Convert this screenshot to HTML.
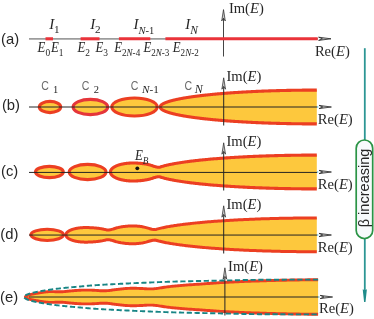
<!DOCTYPE html>
<html><head><meta charset="utf-8"><title>figure</title>
<style>html,body{margin:0;padding:0;background:#fff;}svg{display:block;will-change:transform;transform:translateZ(0);}</style>
</head><body>
<svg width="374" height="319" viewBox="0 0 374 319">
<line x1="29" y1="38.9" x2="318" y2="38.9" stroke="#9c9c9c" stroke-width="1.8"/>
<line x1="223.5" y1="15" x2="223.5" y2="56.5" stroke="#242424" stroke-width="0.85"/>
<line x1="45.5" y1="38.8" x2="53" y2="38.8" stroke="#ea333a" stroke-width="3.1"/>
<line x1="80.6" y1="38.8" x2="99.5" y2="38.8" stroke="#ea333a" stroke-width="3.1"/>
<line x1="118.9" y1="38.8" x2="150.3" y2="38.8" stroke="#ea333a" stroke-width="3.1"/>
<line x1="165.4" y1="38.8" x2="317.7" y2="38.8" stroke="#ea333a" stroke-width="3.1"/>
<path d="M331 38.8 L318.6 37.2 L322.4 38.8 L318.6 40.4 Z" fill="#c8c8c8" stroke="#242424" stroke-width="0.8" stroke-linejoin="miter"/>
<path d="M223.5 9.6 L221.7 21 L223.5 18.2 L225.3 21 Z" fill="#c8c8c8" stroke="#242424" stroke-width="0.7"/>
<text x="228.9" y="12.8" font-family="'Liberation Serif', serif" font-size="14.6" fill="#262626">Im(<tspan font-style="italic">E</tspan>)</text>
<text x="314.9" y="55.8" font-family="'Liberation Serif', serif" font-size="14.6" fill="#262626">Re(<tspan font-style="italic">E</tspan>)</text>
<text x="1.1" y="43.7" font-family="'Liberation Sans', sans-serif" font-size="14.8" fill="#262626">(a)</text>
<text x="49.3" y="29.2" font-family="'Liberation Serif', serif" font-size="15" fill="#262626"><tspan font-style="italic">I</tspan><tspan font-size="11.2" dy="4.2" dx="-0.3">1</tspan></text>
<text x="90.3" y="29.2" font-family="'Liberation Serif', serif" font-size="15" fill="#262626"><tspan font-style="italic">I</tspan><tspan font-size="11.2" dy="4.2" dx="-0.3">2</tspan></text>
<text x="133.4" y="29.2" font-family="'Liberation Serif', serif" font-size="15" fill="#262626"><tspan font-style="italic">I</tspan><tspan font-size="10.5" dy="4.5" dx="0"><tspan font-style="italic">N</tspan>-1</tspan></text>
<text x="185.2" y="29.2" font-family="'Liberation Serif', serif" font-size="15" fill="#262626"><tspan font-style="italic">I</tspan><tspan font-size="11.5" dy="4.7" dx="0"><tspan font-style="italic">N</tspan></tspan></text>
<text transform="translate(37.6 52) scale(1 1.09)" font-family="'Liberation Serif', serif" font-size="12.8" fill="#262626"><tspan font-style="italic">E</tspan><tspan font-size="9.4" dy="3.49" dx="0">0</tspan></text>
<text transform="translate(51 52) scale(1 1.09)" font-family="'Liberation Serif', serif" font-size="12.8" fill="#262626"><tspan font-style="italic">E</tspan><tspan font-size="9.4" dy="3.49" dx="0">1</tspan></text>
<text transform="translate(77.4 52) scale(1 1.09)" font-family="'Liberation Serif', serif" font-size="12.8" fill="#262626"><tspan font-style="italic">E</tspan><tspan font-size="9.4" dy="3.49" dx="0">2</tspan></text>
<text transform="translate(95.5 52) scale(1 1.09)" font-family="'Liberation Serif', serif" font-size="12.8" fill="#262626"><tspan font-style="italic">E</tspan><tspan font-size="9.4" dy="3.49" dx="0">3</tspan></text>
<text transform="translate(114.2 52) scale(1 1.09)" font-family="'Liberation Serif', serif" font-size="12.8" fill="#262626"><tspan font-style="italic">E</tspan><tspan font-size="9.1" dy="3.49" dx="0">2<tspan font-style="italic">N</tspan>-4</tspan></text>
<text transform="translate(143.4 52) scale(1 1.09)" font-family="'Liberation Serif', serif" font-size="12.8" fill="#262626"><tspan font-style="italic">E</tspan><tspan font-size="9.1" dy="3.49" dx="0">2<tspan font-style="italic">N</tspan>-3</tspan></text>
<text transform="translate(172.8 52) scale(1 1.09)" font-family="'Liberation Serif', serif" font-size="12.8" fill="#262626"><tspan font-style="italic">E</tspan><tspan font-size="9.1" dy="3.49" dx="0">2<tspan font-style="italic">N</tspan>-2</tspan></text>
<ellipse cx="50" cy="107.0" rx="10.7" ry="5.6" fill="#fdc83d" stroke="#ec3f22" stroke-width="3.1"/>
<ellipse cx="90.4" cy="107.0" rx="17.3" ry="7.6" fill="#fdc83d" stroke="#e5363a" stroke-width="3.1"/>
<ellipse cx="134.5" cy="107.0" rx="22.7" ry="9.0" fill="#fdc83d" stroke="#ec3f22" stroke-width="3.1"/>
<path d="M316.8 90.1 L315.75 90.1 L314.71 90.1 L313.67 90.1 L312.64 90.11 L311.61 90.11 L310.58 90.11 L309.55 90.12 L308.53 90.12 L307.51 90.13 L306.5 90.14 L305.49 90.14 L304.48 90.15 L303.48 90.16 L302.48 90.17 L301.48 90.18 L300.49 90.19 L299.5 90.2 L298.51 90.22 L297.53 90.23 L296.55 90.24 L295.58 90.26 L294.6 90.27 L293.63 90.29 L292.67 90.3 L291.71 90.32 L290.75 90.34 L289.79 90.35 L288.84 90.37 L287.9 90.39 L286.95 90.41 L286.01 90.43 L285.07 90.45 L284.14 90.47 L283.21 90.49 L282.28 90.52 L281.36 90.54 L280.44 90.56 L279.52 90.59 L278.61 90.61 L277.7 90.64 L276.8 90.66 L275.9 90.69 L275 90.71 L274.1 90.74 L273.21 90.77 L272.32 90.8 L271.44 90.82 L270.56 90.85 L269.68 90.88 L268.8 90.91 L267.93 90.94 L267.07 90.97 L266.2 91.01 L265.34 91.04 L264.49 91.07 L263.63 91.1 L262.78 91.14 L261.94 91.17 L261.1 91.21 L260.26 91.24 L259.42 91.28 L258.59 91.31 L257.76 91.35 L256.94 91.38 L256.11 91.42 L255.3 91.46 L254.48 91.5 L253.67 91.53 L252.86 91.57 L252.06 91.61 L251.26 91.65 L250.46 91.69 L249.67 91.73 L248.88 91.77 L248.09 91.81 L247.31 91.86 L246.53 91.9 L245.75 91.94 L244.98 91.98 L244.21 92.03 L243.45 92.07 L242.68 92.11 L241.93 92.16 L241.17 92.2 L240.42 92.25 L239.67 92.29 L238.93 92.34 L238.19 92.38 L237.45 92.43 L236.71 92.48 L235.98 92.52 L235.26 92.57 L234.53 92.62 L233.81 92.67 L233.1 92.72 L232.38 92.77 L231.67 92.81 L230.97 92.86 L230.27 92.91 L229.57 92.96 L228.87 93.02 L228.18 93.07 L227.49 93.12 L226.81 93.17 L226.13 93.22 L225.45 93.27 L224.77 93.33 L224.1 93.38 L223.43 93.43 L222.77 93.49 L222.11 93.54 L221.45 93.59 L220.8 93.65 L220.15 93.7 L219.5 93.76 L218.86 93.81 L218.22 93.87 L217.59 93.92 L216.95 93.98 L216.32 94.04 L215.7 94.09 L215.08 94.15 L214.46 94.21 L213.84 94.27 L213.23 94.32 L212.63 94.38 L212.02 94.44 L211.42 94.5 L210.82 94.56 L210.23 94.62 L209.64 94.68 L209.05 94.74 L208.47 94.8 L207.89 94.86 L207.31 94.92 L206.74 94.98 L206.17 95.04 L205.6 95.1 L205.04 95.16 L204.48 95.22 L203.93 95.29 L203.38 95.35 L202.83 95.41 L202.28 95.47 L201.74 95.54 L201.2 95.6 L200.67 95.66 L200.14 95.73 L199.61 95.79 L199.09 95.85 L198.57 95.92 L198.05 95.98 L197.54 96.05 L197.03 96.11 L196.52 96.18 L196.02 96.24 L195.52 96.31 L195.02 96.37 L194.53 96.44 L194.04 96.51 L193.56 96.57 L193.08 96.64 L192.6 96.71 L192.12 96.77 L191.65 96.84 L191.19 96.91 L190.72 96.98 L190.26 97.04 L189.8 97.11 L189.35 97.18 L188.9 97.25 L188.45 97.32 L188.01 97.39 L187.57 97.45 L187.13 97.52 L186.7 97.59 L186.27 97.66 L185.85 97.73 L185.42 97.8 L185.01 97.87 L184.59 97.94 L184.18 98.01 L183.77 98.08 L183.37 98.15 L182.96 98.22 L182.57 98.3 L182.17 98.37 L181.78 98.44 L181.4 98.51 L181.01 98.58 L180.63 98.65 L180.25 98.73 L179.88 98.8 L179.51 98.87 L179.15 98.94 L178.78 99.01 L178.42 99.09 L178.07 99.16 L177.72 99.23 L177.37 99.31 L177.02 99.38 L176.68 99.45 L176.34 99.53 L176.01 99.6 L175.68 99.67 L175.35 99.75 L175.03 99.82 L174.71 99.9 L174.39 99.97 L174.07 100.05 L173.76 100.12 L173.46 100.19 L173.16 100.27 L172.86 100.34 L172.56 100.42 L172.27 100.49 L171.98 100.57 L171.69 100.65 L171.41 100.72 L171.13 100.8 L170.86 100.87 L170.59 100.95 L170.32 101.02 L170.05 101.1 L169.79 101.18 L169.53 101.25 L169.28 101.33 L169.03 101.41 L168.78 101.48 L168.54 101.56 L168.3 101.64 L168.06 101.71 L167.83 101.79 L167.6 101.87 L167.37 101.94 L167.15 102.02 L166.93 102.1 L166.72 102.18 L166.51 102.25 L166.3 102.33 L166.09 102.41 L165.89 102.49 L165.69 102.56 L165.5 102.64 L165.31 102.72 L165.12 102.8 L164.94 102.87 L164.76 102.95 L164.58 103.03 L164.41 103.11 L164.24 103.19 L164.07 103.27 L163.91 103.34 L163.75 103.42 L163.59 103.5 L163.44 103.58 L163.29 103.66 L163.14 103.74 L163 103.82 L162.86 103.9 L162.73 103.97 L162.6 104.05 L162.47 104.13 L162.35 104.21 L162.22 104.29 L162.11 104.37 L161.99 104.45 L161.88 104.53 L161.78 104.61 L161.67 104.69 L161.57 104.77 L161.48 104.85 L161.38 104.93 L161.29 105.01 L161.21 105.08 L161.13 105.16 L161.05 105.24 L160.97 105.32 L160.9 105.4 L160.83 105.48 L160.77 105.56 L160.71 105.64 L160.65 105.72 L160.59 105.8 L160.54 105.88 L160.5 105.96 L160.45 106.04 L160.41 106.12 L160.38 106.2 L160.34 106.28 L160.31 106.36 L160.29 106.44 L160.26 106.52 L160.24 106.6 L160.23 106.68 L160.22 106.76 L160.21 106.84 L160.2 106.92 L160.2 107 L160.2 107.08 L160.21 107.16 L160.22 107.24 L160.23 107.32 L160.24 107.4 L160.26 107.48 L160.29 107.56 L160.31 107.64 L160.34 107.72 L160.38 107.8 L160.41 107.88 L160.45 107.96 L160.5 108.04 L160.54 108.12 L160.59 108.2 L160.65 108.28 L160.71 108.36 L160.77 108.44 L160.83 108.52 L160.9 108.6 L160.97 108.68 L161.05 108.76 L161.13 108.84 L161.21 108.92 L161.29 108.99 L161.38 109.07 L161.48 109.15 L161.57 109.23 L161.67 109.31 L161.78 109.39 L161.88 109.47 L161.99 109.55 L162.11 109.63 L162.22 109.71 L162.35 109.79 L162.47 109.87 L162.6 109.95 L162.73 110.03 L162.86 110.1 L163 110.18 L163.14 110.26 L163.29 110.34 L163.44 110.42 L163.59 110.5 L163.75 110.58 L163.91 110.66 L164.07 110.73 L164.24 110.81 L164.41 110.89 L164.58 110.97 L164.76 111.05 L164.94 111.13 L165.12 111.2 L165.31 111.28 L165.5 111.36 L165.69 111.44 L165.89 111.51 L166.09 111.59 L166.3 111.67 L166.51 111.75 L166.72 111.82 L166.93 111.9 L167.15 111.98 L167.37 112.06 L167.6 112.13 L167.83 112.21 L168.06 112.29 L168.3 112.36 L168.54 112.44 L168.78 112.52 L169.03 112.59 L169.28 112.67 L169.53 112.75 L169.79 112.82 L170.05 112.9 L170.32 112.98 L170.59 113.05 L170.86 113.13 L171.13 113.2 L171.41 113.28 L171.69 113.35 L171.98 113.43 L172.27 113.51 L172.56 113.58 L172.86 113.66 L173.16 113.73 L173.46 113.81 L173.76 113.88 L174.07 113.95 L174.39 114.03 L174.71 114.1 L175.03 114.18 L175.35 114.25 L175.68 114.33 L176.01 114.4 L176.34 114.47 L176.68 114.55 L177.02 114.62 L177.37 114.69 L177.72 114.77 L178.07 114.84 L178.42 114.91 L178.78 114.99 L179.15 115.06 L179.51 115.13 L179.88 115.2 L180.25 115.27 L180.63 115.35 L181.01 115.42 L181.4 115.49 L181.78 115.56 L182.17 115.63 L182.57 115.7 L182.96 115.78 L183.37 115.85 L183.77 115.92 L184.18 115.99 L184.59 116.06 L185.01 116.13 L185.42 116.2 L185.85 116.27 L186.27 116.34 L186.7 116.41 L187.13 116.48 L187.57 116.55 L188.01 116.61 L188.45 116.68 L188.9 116.75 L189.35 116.82 L189.8 116.89 L190.26 116.96 L190.72 117.02 L191.19 117.09 L191.65 117.16 L192.12 117.23 L192.6 117.29 L193.08 117.36 L193.56 117.43 L194.04 117.49 L194.53 117.56 L195.02 117.63 L195.52 117.69 L196.02 117.76 L196.52 117.82 L197.03 117.89 L197.54 117.95 L198.05 118.02 L198.57 118.08 L199.09 118.15 L199.61 118.21 L200.14 118.27 L200.67 118.34 L201.2 118.4 L201.74 118.46 L202.28 118.53 L202.83 118.59 L203.38 118.65 L203.93 118.71 L204.48 118.78 L205.04 118.84 L205.6 118.9 L206.17 118.96 L206.74 119.02 L207.31 119.08 L207.89 119.14 L208.47 119.2 L209.05 119.26 L209.64 119.32 L210.23 119.38 L210.82 119.44 L211.42 119.5 L212.02 119.56 L212.63 119.62 L213.23 119.68 L213.84 119.73 L214.46 119.79 L215.08 119.85 L215.7 119.91 L216.32 119.96 L216.95 120.02 L217.59 120.08 L218.22 120.13 L218.86 120.19 L219.5 120.24 L220.15 120.3 L220.8 120.35 L221.45 120.41 L222.11 120.46 L222.77 120.51 L223.43 120.57 L224.1 120.62 L224.77 120.67 L225.45 120.73 L226.13 120.78 L226.81 120.83 L227.49 120.88 L228.18 120.93 L228.87 120.98 L229.57 121.04 L230.27 121.09 L230.97 121.14 L231.67 121.19 L232.38 121.23 L233.1 121.28 L233.81 121.33 L234.53 121.38 L235.26 121.43 L235.98 121.48 L236.71 121.52 L237.45 121.57 L238.19 121.62 L238.93 121.66 L239.67 121.71 L240.42 121.75 L241.17 121.8 L241.93 121.84 L242.68 121.89 L243.45 121.93 L244.21 121.97 L244.98 122.02 L245.75 122.06 L246.53 122.1 L247.31 122.14 L248.09 122.19 L248.88 122.23 L249.67 122.27 L250.46 122.31 L251.26 122.35 L252.06 122.39 L252.86 122.43 L253.67 122.47 L254.48 122.5 L255.3 122.54 L256.11 122.58 L256.94 122.62 L257.76 122.65 L258.59 122.69 L259.42 122.72 L260.26 122.76 L261.1 122.79 L261.94 122.83 L262.78 122.86 L263.63 122.9 L264.49 122.93 L265.34 122.96 L266.2 122.99 L267.07 123.03 L267.93 123.06 L268.8 123.09 L269.68 123.12 L270.56 123.15 L271.44 123.18 L272.32 123.2 L273.21 123.23 L274.1 123.26 L275 123.29 L275.9 123.31 L276.8 123.34 L277.7 123.36 L278.61 123.39 L279.52 123.41 L280.44 123.44 L281.36 123.46 L282.28 123.48 L283.21 123.51 L284.14 123.53 L285.07 123.55 L286.01 123.57 L286.95 123.59 L287.9 123.61 L288.84 123.63 L289.79 123.65 L290.75 123.66 L291.71 123.68 L292.67 123.7 L293.63 123.71 L294.6 123.73 L295.58 123.74 L296.55 123.76 L297.53 123.77 L298.51 123.78 L299.5 123.8 L300.49 123.81 L301.48 123.82 L302.48 123.83 L303.48 123.84 L304.48 123.85 L305.49 123.86 L306.5 123.86 L307.51 123.87 L308.53 123.88 L309.55 123.88 L310.58 123.89 L311.61 123.89 L312.64 123.89 L313.67 123.9 L314.71 123.9 L315.75 123.9 L316.8 123.9" fill="#fdc83d" stroke="#ec3f22" stroke-width="3.1" stroke-linejoin="round"/>
<line x1="29" y1="107" x2="317.2" y2="107" stroke="#242424" stroke-width="1.0"/>
<line x1="223.7" y1="83.8" x2="223.7" y2="125.5" stroke="#242424" stroke-width="1.0"/>
<path d="M331.4 107 L319 105.4 L322.8 107 L319 108.6 Z" fill="#c8c8c8" stroke="#242424" stroke-width="0.8" stroke-linejoin="miter"/>
<circle cx="317.7" cy="107" r="0.75" fill="#5cc3e6"/>
<path d="M223.7 77.8 L221.9 89.2 L223.7 86.4 L225.5 89.2 Z" fill="#c8c8c8" stroke="#242424" stroke-width="0.7"/>
<text x="226.5" y="81" font-family="'Liberation Serif', serif" font-size="14.6" fill="#262626">Im(<tspan font-style="italic">E</tspan>)</text>
<text x="317.8" y="123.6" font-family="'Liberation Serif', serif" font-size="14.6" fill="#262626">Re(<tspan font-style="italic">E</tspan>)</text>
<text x="1.9" y="110.2" font-family="'Liberation Sans', sans-serif" font-size="14.8" fill="#262626">(b)</text>
<text transform="translate(41.3 89.6) scale(0.86 1)" font-family="'Liberation Sans', sans-serif" font-size="12.3" fill="#6a6a6a">C</text>
<text x="53" y="93.39999999999999" font-family="'Liberation Serif', serif" font-size="10.5" fill="#262626">1</text>
<text transform="translate(81.8 89.6) scale(0.86 1)" font-family="'Liberation Sans', sans-serif" font-size="12.3" fill="#6a6a6a">C</text>
<text x="93.8" y="93.39999999999999" font-family="'Liberation Serif', serif" font-size="10.5" fill="#262626">2</text>
<text transform="translate(130.8 89.6) scale(0.86 1)" font-family="'Liberation Sans', sans-serif" font-size="12.3" fill="#6a6a6a">C</text>
<text x="142.0" y="93.39999999999999" font-family="'Liberation Serif', serif" font-size="11.2" fill="#262626"><tspan font-style="italic">N</tspan>-1</text>
<text transform="translate(184.5 89.6) scale(0.86 1)" font-family="'Liberation Sans', sans-serif" font-size="12.3" fill="#6a6a6a">C</text>
<text x="194.8" y="93.39999999999999" font-family="'Liberation Serif', serif" font-size="12" fill="#262626"><tspan font-style="italic">N</tspan></text>
<ellipse cx="49.4" cy="172.0" rx="13.9" ry="5.6" fill="#fdc83d" stroke="#ec3f22" stroke-width="3.1"/>
<ellipse cx="87.6" cy="172.0" rx="18.4" ry="7.6" fill="#fdc83d" stroke="#ec3f22" stroke-width="3.1"/>
<path d="M316.8 155.1 L315.42 155.1 L314.05 155.1 L312.68 155.11 L311.31 155.11 L309.95 155.11 L308.6 155.12 L307.25 155.13 L305.9 155.14 L304.56 155.15 L303.22 155.16 L301.89 155.17 L300.57 155.18 L299.24 155.2 L297.92 155.21 L296.61 155.23 L295.3 155.25 L294 155.26 L292.7 155.28 L291.4 155.3 L290.11 155.33 L288.83 155.35 L287.54 155.37 L286.27 155.4 L285 155.42 L283.73 155.45 L282.47 155.48 L281.21 155.5 L279.95 155.53 L278.7 155.56 L277.46 155.59 L276.22 155.63 L274.98 155.66 L273.75 155.69 L272.53 155.73 L271.31 155.76 L270.09 155.8 L268.88 155.84 L267.67 155.88 L266.47 155.92 L265.27 155.96 L264.08 156 L262.89 156.04 L261.7 156.08 L260.52 156.13 L259.35 156.17 L258.18 156.22 L257.01 156.27 L255.85 156.31 L254.69 156.36 L253.54 156.41 L252.39 156.46 L251.25 156.51 L250.11 156.56 L248.98 156.62 L247.85 156.67 L246.73 156.72 L245.61 156.78 L244.49 156.84 L243.38 156.89 L242.28 156.95 L241.17 157.01 L240.08 157.07 L238.99 157.13 L237.9 157.19 L236.82 157.25 L235.74 157.31 L234.66 157.38 L233.59 157.44 L232.53 157.51 L231.47 157.57 L230.42 157.64 L229.36 157.71 L228.32 157.78 L227.28 157.85 L226.24 157.92 L225.21 157.99 L224.18 158.06 L223.16 158.13 L222.14 158.21 L221.13 158.28 L220.12 158.36 L219.11 158.43 L218.11 158.51 L217.12 158.59 L216.13 158.67 L215.14 158.75 L214.16 158.83 L213.19 158.91 L212.21 158.99 L211.25 159.08 L210.28 159.16 L209.33 159.25 L208.37 159.33 L207.42 159.42 L206.48 159.51 L205.54 159.6 L204.6 159.69 L203.67 159.78 L202.75 159.87 L201.83 159.96 L200.91 160.06 L200 160.15 L199.09 160.25 L198.19 160.34 L197.29 160.44 L196.4 160.54 L195.51 160.64 L194.62 160.74 L193.74 160.85 L192.87 160.95 L192 161.05 L191.13 161.16 L190.27 161.27 L189.42 161.38 L188.56 161.49 L187.72 161.6 L186.87 161.71 L186.04 161.82 L185.2 161.94 L184.37 162.05 L183.55 162.17 L182.73 162.29 L181.91 162.41 L181.1 162.53 L180.3 162.66 L179.5 162.78 L178.7 162.91 L177.91 163.04 L177.12 163.17 L176.34 163.31 L175.56 163.44 L174.79 163.58 L174.02 163.72 L173.25 163.86 L172.49 164 L171.74 164.15 L170.99 164.3 L170.24 164.45 L169.5 164.61 L168.77 164.77 L168.03 164.93 L167.31 165.09 L166.58 165.26 L165.87 165.43 L165.15 165.61 L164.44 165.79 L163.74 165.98 L163.04 166.17 L162.35 166.37 L161.66 166.58 L160.97 166.79 L160.29 167.01 L159.61 167.21 L158.94 167.28 L158.27 167.26 L157.61 167.19 L156.95 167.08 L156.3 166.94 L155.65 166.78 L155.01 166.61 L154.37 166.42 L153.73 166.22 L153.1 166.02 L152.48 165.79 L151.85 165.58 L151.24 165.38 L150.63 165.2 L150.02 165.03 L149.42 164.87 L148.82 164.72 L148.23 164.58 L147.64 164.45 L147.05 164.33 L146.47 164.21 L145.9 164.1 L145.33 164 L144.76 163.91 L144.2 163.82 L143.65 163.73 L143.09 163.66 L142.55 163.59 L142 163.52 L141.47 163.46 L140.93 163.4 L140.4 163.35 L139.88 163.3 L139.36 163.26 L138.85 163.22 L138.34 163.18 L137.83 163.15 L137.33 163.12 L136.83 163.09 L136.34 163.07 L135.85 163.05 L135.37 163.04 L134.89 163.02 L134.42 163.01 L133.95 163.01 L133.49 163 L133.03 163 L132.57 163 L132.12 163.01 L131.68 163.02 L131.24 163.03 L130.8 163.04 L130.37 163.06 L129.94 163.08 L129.52 163.11 L129.1 163.13 L128.69 163.17 L128.28 163.2 L127.87 163.23 L127.48 163.27 L127.08 163.31 L126.69 163.36 L126.3 163.4 L125.92 163.45 L125.55 163.5 L125.18 163.56 L124.81 163.61 L124.45 163.67 L124.09 163.73 L123.74 163.79 L123.39 163.85 L123.04 163.92 L122.7 163.99 L122.37 164.06 L122.04 164.13 L121.71 164.2 L121.39 164.28 L121.08 164.35 L120.76 164.43 L120.46 164.51 L120.15 164.6 L119.86 164.68 L119.56 164.76 L119.27 164.85 L118.99 164.94 L118.71 165.03 L118.44 165.12 L118.17 165.21 L117.9 165.3 L117.64 165.4 L117.38 165.49 L117.13 165.59 L116.89 165.69 L116.64 165.79 L116.4 165.89 L116.17 165.99 L115.94 166.1 L115.72 166.2 L115.5 166.31 L115.29 166.41 L115.08 166.52 L114.87 166.63 L114.67 166.74 L114.47 166.85 L114.28 166.96 L114.09 167.07 L113.91 167.18 L113.73 167.3 L113.56 167.41 L113.39 167.52 L113.23 167.64 L113.07 167.76 L112.91 167.87 L112.76 167.99 L112.62 168.11 L112.48 168.23 L112.34 168.35 L112.21 168.47 L112.08 168.59 L111.96 168.71 L111.84 168.84 L111.73 168.96 L111.62 169.08 L111.52 169.21 L111.42 169.33 L111.32 169.45 L111.23 169.58 L111.15 169.7 L111.07 169.83 L110.99 169.96 L110.92 170.08 L110.85 170.21 L110.79 170.33 L110.73 170.46 L110.68 170.59 L110.63 170.72 L110.59 170.84 L110.55 170.97 L110.51 171.1 L110.48 171.23 L110.46 171.36 L110.44 171.49 L110.42 171.61 L110.41 171.74 L110.4 171.87 L110.4 172 L110.4 172.13 L110.41 172.26 L110.42 172.39 L110.44 172.51 L110.46 172.64 L110.48 172.77 L110.51 172.9 L110.55 173.03 L110.59 173.16 L110.63 173.28 L110.68 173.41 L110.73 173.54 L110.79 173.67 L110.85 173.79 L110.92 173.92 L110.99 174.04 L111.07 174.17 L111.15 174.3 L111.23 174.42 L111.32 174.55 L111.42 174.67 L111.52 174.79 L111.62 174.92 L111.73 175.04 L111.84 175.16 L111.96 175.29 L112.08 175.41 L112.21 175.53 L112.34 175.65 L112.48 175.77 L112.62 175.89 L112.76 176.01 L112.91 176.13 L113.07 176.24 L113.23 176.36 L113.39 176.48 L113.56 176.59 L113.73 176.7 L113.91 176.82 L114.09 176.93 L114.28 177.04 L114.47 177.15 L114.67 177.26 L114.87 177.37 L115.08 177.48 L115.29 177.59 L115.5 177.69 L115.72 177.8 L115.94 177.9 L116.17 178.01 L116.4 178.11 L116.64 178.21 L116.89 178.31 L117.13 178.41 L117.38 178.51 L117.64 178.6 L117.9 178.7 L118.17 178.79 L118.44 178.88 L118.71 178.97 L118.99 179.06 L119.27 179.15 L119.56 179.24 L119.86 179.32 L120.15 179.4 L120.46 179.49 L120.76 179.57 L121.08 179.65 L121.39 179.72 L121.71 179.8 L122.04 179.87 L122.37 179.94 L122.7 180.01 L123.04 180.08 L123.39 180.15 L123.74 180.21 L124.09 180.27 L124.45 180.33 L124.81 180.39 L125.18 180.44 L125.55 180.5 L125.92 180.55 L126.3 180.6 L126.69 180.64 L127.08 180.69 L127.48 180.73 L127.87 180.77 L128.28 180.8 L128.69 180.83 L129.1 180.87 L129.52 180.89 L129.94 180.92 L130.37 180.94 L130.8 180.96 L131.24 180.97 L131.68 180.98 L132.12 180.99 L132.57 181 L133.03 181 L133.49 181 L133.95 180.99 L134.42 180.99 L134.89 180.98 L135.37 180.96 L135.85 180.95 L136.34 180.93 L136.83 180.91 L137.33 180.88 L137.83 180.85 L138.34 180.82 L138.85 180.78 L139.36 180.74 L139.88 180.7 L140.4 180.65 L140.93 180.6 L141.47 180.54 L142 180.48 L142.55 180.41 L143.09 180.34 L143.65 180.27 L144.2 180.18 L144.76 180.09 L145.33 180 L145.9 179.9 L146.47 179.79 L147.05 179.67 L147.64 179.55 L148.23 179.42 L148.82 179.28 L149.42 179.13 L150.02 178.97 L150.63 178.8 L151.24 178.62 L151.85 178.42 L152.48 178.21 L153.1 177.98 L153.73 177.78 L154.37 177.58 L155.01 177.39 L155.65 177.22 L156.3 177.06 L156.95 176.92 L157.61 176.81 L158.27 176.74 L158.94 176.72 L159.61 176.79 L160.29 176.99 L160.97 177.21 L161.66 177.42 L162.35 177.63 L163.04 177.83 L163.74 178.02 L164.44 178.21 L165.15 178.39 L165.87 178.57 L166.58 178.74 L167.31 178.91 L168.03 179.07 L168.77 179.23 L169.5 179.39 L170.24 179.55 L170.99 179.7 L171.74 179.85 L172.49 180 L173.25 180.14 L174.02 180.28 L174.79 180.42 L175.56 180.56 L176.34 180.69 L177.12 180.83 L177.91 180.96 L178.7 181.09 L179.5 181.22 L180.3 181.34 L181.1 181.47 L181.91 181.59 L182.73 181.71 L183.55 181.83 L184.37 181.95 L185.2 182.06 L186.04 182.18 L186.87 182.29 L187.72 182.4 L188.56 182.51 L189.42 182.62 L190.27 182.73 L191.13 182.84 L192 182.95 L192.87 183.05 L193.74 183.15 L194.62 183.26 L195.51 183.36 L196.4 183.46 L197.29 183.56 L198.19 183.66 L199.09 183.75 L200 183.85 L200.91 183.94 L201.83 184.04 L202.75 184.13 L203.67 184.22 L204.6 184.31 L205.54 184.4 L206.48 184.49 L207.42 184.58 L208.37 184.67 L209.33 184.75 L210.28 184.84 L211.25 184.92 L212.21 185.01 L213.19 185.09 L214.16 185.17 L215.14 185.25 L216.13 185.33 L217.12 185.41 L218.11 185.49 L219.11 185.57 L220.12 185.64 L221.13 185.72 L222.14 185.79 L223.16 185.87 L224.18 185.94 L225.21 186.01 L226.24 186.08 L227.28 186.15 L228.32 186.22 L229.36 186.29 L230.42 186.36 L231.47 186.43 L232.53 186.49 L233.59 186.56 L234.66 186.62 L235.74 186.69 L236.82 186.75 L237.9 186.81 L238.99 186.87 L240.08 186.93 L241.17 186.99 L242.28 187.05 L243.38 187.11 L244.49 187.16 L245.61 187.22 L246.73 187.28 L247.85 187.33 L248.98 187.38 L250.11 187.44 L251.25 187.49 L252.39 187.54 L253.54 187.59 L254.69 187.64 L255.85 187.69 L257.01 187.73 L258.18 187.78 L259.35 187.83 L260.52 187.87 L261.7 187.92 L262.89 187.96 L264.08 188 L265.27 188.04 L266.47 188.08 L267.67 188.12 L268.88 188.16 L270.09 188.2 L271.31 188.24 L272.53 188.27 L273.75 188.31 L274.98 188.34 L276.22 188.37 L277.46 188.41 L278.7 188.44 L279.95 188.47 L281.21 188.5 L282.47 188.52 L283.73 188.55 L285 188.58 L286.27 188.6 L287.54 188.63 L288.83 188.65 L290.11 188.67 L291.4 188.7 L292.7 188.72 L294 188.74 L295.3 188.75 L296.61 188.77 L297.92 188.79 L299.24 188.8 L300.57 188.82 L301.89 188.83 L303.22 188.84 L304.56 188.85 L305.9 188.86 L307.25 188.87 L308.6 188.88 L309.95 188.89 L311.31 188.89 L312.68 188.89 L314.05 188.9 L315.42 188.9 L316.8 188.9" fill="#fdc83d" stroke="#ec3f22" stroke-width="3.1" stroke-linejoin="round"/>
<line x1="29" y1="172.42" x2="317.2" y2="172.42" stroke="#242424" stroke-width="1.0"/>
<line x1="223.7" y1="148.8" x2="223.7" y2="190.5" stroke="#242424" stroke-width="1.0"/>
<path d="M331.4 172 L319 170.4 L322.8 172 L319 173.6 Z" fill="#c8c8c8" stroke="#242424" stroke-width="0.8" stroke-linejoin="miter"/>
<circle cx="317.7" cy="172" r="0.75" fill="#5cc3e6"/>
<path d="M223.7 142.8 L221.9 154.2 L223.7 151.4 L225.5 154.2 Z" fill="#c8c8c8" stroke="#242424" stroke-width="0.7"/>
<text x="226.5" y="146" font-family="'Liberation Serif', serif" font-size="14.6" fill="#262626">Im(<tspan font-style="italic">E</tspan>)</text>
<text x="317.8" y="188.6" font-family="'Liberation Serif', serif" font-size="14.6" fill="#262626">Re(<tspan font-style="italic">E</tspan>)</text>
<text x="1.0" y="176.1" font-family="'Liberation Sans', sans-serif" font-size="14.8" fill="#262626">(c)</text>
<circle cx="137.3" cy="168.3" r="1.9" fill="#111"/>
<text transform="translate(134.9 160.3) scale(1 1.11)" font-family="'Liberation Serif', serif" font-size="12.9" fill="#262626"><tspan font-style="italic">E</tspan><tspan font-size="9.3" dy="3.06" dx="0"><tspan font-style="italic">B</tspan></tspan></text>
<ellipse cx="47.2" cy="234.85" rx="16.3" ry="5.6" fill="#fdc83d" stroke="#ec3f22" stroke-width="3.1"/>
<path d="M316.8 217.95 L315.12 217.95 L313.45 217.95 L311.79 217.96 L310.13 217.96 L308.48 217.97 L306.83 217.98 L305.19 217.99 L303.55 218 L301.92 218.01 L300.3 218.03 L298.68 218.05 L297.06 218.06 L295.46 218.08 L293.85 218.1 L292.26 218.13 L290.67 218.15 L289.08 218.18 L287.5 218.2 L285.93 218.23 L284.36 218.26 L282.79 218.29 L281.24 218.32 L279.68 218.36 L278.14 218.39 L276.6 218.43 L275.06 218.47 L273.53 218.51 L272.01 218.55 L270.49 218.59 L268.98 218.63 L267.47 218.68 L265.97 218.72 L264.47 218.77 L262.98 218.82 L261.5 218.87 L260.02 218.92 L258.55 218.97 L257.08 219.03 L255.62 219.08 L254.16 219.14 L252.71 219.2 L251.26 219.26 L249.82 219.32 L248.39 219.38 L246.96 219.44 L245.54 219.51 L244.12 219.57 L242.71 219.64 L241.3 219.71 L239.9 219.78 L238.51 219.85 L237.12 219.92 L235.74 220 L234.36 220.07 L232.99 220.15 L231.62 220.23 L230.26 220.31 L228.9 220.39 L227.55 220.47 L226.21 220.55 L224.87 220.64 L223.54 220.72 L222.21 220.81 L220.89 220.9 L219.57 220.99 L218.26 221.08 L216.95 221.18 L215.66 221.27 L214.36 221.37 L213.07 221.47 L211.79 221.56 L210.51 221.67 L209.24 221.77 L207.98 221.87 L206.72 221.98 L205.46 222.08 L204.21 222.19 L202.97 222.3 L201.73 222.42 L200.5 222.53 L199.27 222.65 L198.05 222.76 L196.84 222.88 L195.63 223 L194.42 223.13 L193.23 223.25 L192.03 223.38 L190.85 223.51 L189.66 223.64 L188.49 223.77 L187.32 223.91 L186.15 224.05 L184.99 224.19 L183.84 224.33 L182.69 224.47 L181.55 224.62 L180.41 224.77 L179.28 224.93 L178.16 225.08 L177.04 225.24 L175.92 225.4 L174.82 225.57 L173.71 225.74 L172.62 225.91 L171.52 226.09 L170.44 226.27 L169.36 226.45 L168.28 226.64 L167.21 226.84 L166.15 227.04 L165.09 227.24 L164.04 227.45 L162.99 227.67 L161.95 227.9 L160.92 228.13 L159.89 228.37 L158.86 228.62 L157.84 228.88 L156.83 229.16 L155.82 229.45 L154.82 229.62 L153.82 229.57 L152.83 229.41 L151.85 229.19 L150.87 228.94 L149.89 228.68 L148.93 228.42 L147.96 228.15 L147.01 227.88 L146.06 227.6 L145.11 227.35 L144.17 227.12 L143.23 226.92 L142.31 226.75 L141.38 226.59 L140.46 226.45 L139.55 226.34 L138.65 226.23 L137.75 226.15 L136.85 226.08 L135.96 226.03 L135.08 225.99 L134.2 225.96 L133.33 225.95 L132.46 225.95 L131.6 225.96 L130.74 225.98 L129.89 226.01 L129.05 226.05 L128.21 226.1 L127.37 226.16 L126.54 226.23 L125.72 226.3 L124.91 226.39 L124.09 226.48 L123.29 226.59 L122.49 226.7 L121.7 226.83 L120.91 226.96 L120.12 227.11 L119.35 227.26 L118.57 227.43 L117.81 227.61 L117.05 227.81 L116.29 228.01 L115.54 228.23 L114.8 228.47 L114.06 228.72 L113.33 228.95 L112.6 229.15 L111.88 229.35 L111.17 229.53 L110.46 229.69 L109.75 229.84 L109.05 229.96 L108.36 230.04 L107.67 230.07 L106.99 230.01 L106.31 229.82 L105.64 229.65 L104.98 229.49 L104.32 229.34 L103.66 229.2 L103.02 229.07 L102.37 228.94 L101.74 228.83 L101.1 228.72 L100.48 228.62 L99.86 228.53 L99.24 228.44 L98.63 228.36 L98.03 228.28 L97.43 228.21 L96.84 228.14 L96.25 228.08 L95.67 228.02 L95.1 227.97 L94.53 227.92 L93.96 227.87 L93.41 227.83 L92.85 227.79 L92.31 227.76 L91.76 227.73 L91.23 227.7 L90.7 227.67 L90.17 227.65 L89.65 227.63 L89.14 227.61 L88.63 227.59 L88.13 227.58 L87.63 227.57 L87.14 227.56 L86.66 227.56 L86.18 227.55 L85.7 227.55 L85.23 227.55 L84.77 227.56 L84.31 227.56 L83.86 227.58 L83.42 227.59 L82.97 227.61 L82.54 227.63 L82.11 227.66 L81.69 227.69 L81.27 227.72 L80.86 227.76 L80.45 227.8 L80.05 227.84 L79.65 227.88 L79.26 227.93 L78.88 227.98 L78.5 228.03 L78.12 228.09 L77.76 228.14 L77.4 228.2 L77.04 228.27 L76.69 228.33 L76.34 228.4 L76 228.46 L75.67 228.53 L75.34 228.61 L75.02 228.68 L74.7 228.76 L74.39 228.84 L74.08 228.92 L73.78 229 L73.49 229.08 L73.2 229.17 L72.92 229.25 L72.64 229.34 L72.37 229.43 L72.1 229.52 L71.84 229.62 L71.58 229.71 L71.33 229.81 L71.09 229.9 L70.85 230 L70.62 230.1 L70.39 230.2 L70.17 230.3 L69.95 230.4 L69.74 230.51 L69.54 230.61 L69.34 230.72 L69.14 230.83 L68.96 230.94 L68.77 231.04 L68.6 231.15 L68.43 231.27 L68.26 231.38 L68.1 231.49 L67.95 231.6 L67.8 231.72 L67.65 231.83 L67.52 231.95 L67.38 232.06 L67.26 232.18 L67.14 232.3 L67.02 232.41 L66.91 232.53 L66.81 232.65 L66.71 232.77 L66.62 232.89 L66.53 233.01 L66.45 233.13 L66.37 233.25 L66.3 233.38 L66.24 233.5 L66.18 233.62 L66.13 233.74 L66.08 233.86 L66.04 233.99 L66 234.11 L65.97 234.23 L65.94 234.36 L65.93 234.48 L65.91 234.6 L65.9 234.73 L65.9 234.85 L65.9 234.97 L65.91 235.1 L65.93 235.22 L65.94 235.34 L65.97 235.47 L66 235.59 L66.04 235.71 L66.08 235.84 L66.13 235.96 L66.18 236.08 L66.24 236.2 L66.3 236.32 L66.37 236.45 L66.45 236.57 L66.53 236.69 L66.62 236.81 L66.71 236.93 L66.81 237.05 L66.91 237.17 L67.02 237.29 L67.14 237.4 L67.26 237.52 L67.38 237.64 L67.52 237.75 L67.65 237.87 L67.8 237.98 L67.95 238.1 L68.1 238.21 L68.26 238.32 L68.43 238.43 L68.6 238.55 L68.77 238.66 L68.96 238.76 L69.14 238.87 L69.34 238.98 L69.54 239.09 L69.74 239.19 L69.95 239.3 L70.17 239.4 L70.39 239.5 L70.62 239.6 L70.85 239.7 L71.09 239.8 L71.33 239.89 L71.58 239.99 L71.84 240.08 L72.1 240.18 L72.37 240.27 L72.64 240.36 L72.92 240.45 L73.2 240.53 L73.49 240.62 L73.78 240.7 L74.08 240.78 L74.39 240.86 L74.7 240.94 L75.02 241.02 L75.34 241.09 L75.67 241.17 L76 241.24 L76.34 241.3 L76.69 241.37 L77.04 241.43 L77.4 241.5 L77.76 241.56 L78.12 241.61 L78.5 241.67 L78.88 241.72 L79.26 241.77 L79.65 241.82 L80.05 241.86 L80.45 241.9 L80.86 241.94 L81.27 241.98 L81.69 242.01 L82.11 242.04 L82.54 242.07 L82.97 242.09 L83.42 242.11 L83.86 242.12 L84.31 242.14 L84.77 242.14 L85.23 242.15 L85.7 242.15 L86.18 242.15 L86.66 242.14 L87.14 242.14 L87.63 242.13 L88.13 242.12 L88.63 242.11 L89.14 242.09 L89.65 242.07 L90.17 242.05 L90.7 242.03 L91.23 242 L91.76 241.97 L92.31 241.94 L92.85 241.91 L93.41 241.87 L93.96 241.83 L94.53 241.78 L95.1 241.73 L95.67 241.68 L96.25 241.62 L96.84 241.56 L97.43 241.49 L98.03 241.42 L98.63 241.34 L99.24 241.26 L99.86 241.17 L100.48 241.08 L101.1 240.98 L101.74 240.87 L102.37 240.76 L103.02 240.63 L103.66 240.5 L104.32 240.36 L104.98 240.21 L105.64 240.05 L106.31 239.88 L106.99 239.69 L107.67 239.63 L108.36 239.66 L109.05 239.74 L109.75 239.86 L110.46 240.01 L111.17 240.17 L111.88 240.35 L112.6 240.55 L113.33 240.75 L114.06 240.98 L114.8 241.23 L115.54 241.47 L116.29 241.69 L117.05 241.89 L117.81 242.09 L118.57 242.27 L119.35 242.44 L120.12 242.59 L120.91 242.74 L121.7 242.87 L122.49 243 L123.29 243.11 L124.09 243.22 L124.91 243.31 L125.72 243.4 L126.54 243.47 L127.37 243.54 L128.21 243.6 L129.05 243.65 L129.89 243.69 L130.74 243.72 L131.6 243.74 L132.46 243.75 L133.33 243.75 L134.2 243.74 L135.08 243.71 L135.96 243.67 L136.85 243.62 L137.75 243.55 L138.65 243.47 L139.55 243.36 L140.46 243.25 L141.38 243.11 L142.31 242.95 L143.23 242.78 L144.17 242.58 L145.11 242.35 L146.06 242.1 L147.01 241.82 L147.96 241.55 L148.93 241.28 L149.89 241.02 L150.87 240.76 L151.85 240.51 L152.83 240.29 L153.82 240.13 L154.82 240.08 L155.82 240.25 L156.83 240.54 L157.84 240.82 L158.86 241.08 L159.89 241.33 L160.92 241.57 L161.95 241.8 L162.99 242.03 L164.04 242.25 L165.09 242.46 L166.15 242.66 L167.21 242.86 L168.28 243.06 L169.36 243.25 L170.44 243.43 L171.52 243.61 L172.62 243.79 L173.71 243.96 L174.82 244.13 L175.92 244.3 L177.04 244.46 L178.16 244.62 L179.28 244.77 L180.41 244.93 L181.55 245.08 L182.69 245.23 L183.84 245.37 L184.99 245.51 L186.15 245.65 L187.32 245.79 L188.49 245.93 L189.66 246.06 L190.85 246.19 L192.03 246.32 L193.23 246.45 L194.42 246.57 L195.63 246.7 L196.84 246.82 L198.05 246.94 L199.27 247.05 L200.5 247.17 L201.73 247.28 L202.97 247.4 L204.21 247.51 L205.46 247.62 L206.72 247.72 L207.98 247.83 L209.24 247.93 L210.51 248.03 L211.79 248.14 L213.07 248.23 L214.36 248.33 L215.66 248.43 L216.95 248.52 L218.26 248.62 L219.57 248.71 L220.89 248.8 L222.21 248.89 L223.54 248.98 L224.87 249.06 L226.21 249.15 L227.55 249.23 L228.9 249.31 L230.26 249.39 L231.62 249.47 L232.99 249.55 L234.36 249.63 L235.74 249.7 L237.12 249.78 L238.51 249.85 L239.9 249.92 L241.3 249.99 L242.71 250.06 L244.12 250.13 L245.54 250.19 L246.96 250.26 L248.39 250.32 L249.82 250.38 L251.26 250.44 L252.71 250.5 L254.16 250.56 L255.62 250.62 L257.08 250.67 L258.55 250.73 L260.02 250.78 L261.5 250.83 L262.98 250.88 L264.47 250.93 L265.97 250.98 L267.47 251.02 L268.98 251.07 L270.49 251.11 L272.01 251.15 L273.53 251.19 L275.06 251.23 L276.6 251.27 L278.14 251.31 L279.68 251.34 L281.24 251.38 L282.79 251.41 L284.36 251.44 L285.93 251.47 L287.5 251.5 L289.08 251.52 L290.67 251.55 L292.26 251.57 L293.85 251.6 L295.46 251.62 L297.06 251.64 L298.68 251.65 L300.3 251.67 L301.92 251.69 L303.55 251.7 L305.19 251.71 L306.83 251.72 L308.48 251.73 L310.13 251.74 L311.79 251.74 L313.45 251.75 L315.12 251.75 L316.8 251.75" fill="#fdc83d" stroke="#ec3f22" stroke-width="3.0" stroke-linejoin="round"/>
<line x1="29" y1="235.05" x2="317.2" y2="235.05" stroke="#242424" stroke-width="1.0"/>
<line x1="223.7" y1="211.8" x2="223.7" y2="253.5" stroke="#242424" stroke-width="1.0"/>
<path d="M331.4 235 L319 233.4 L322.8 235 L319 236.6 Z" fill="#c8c8c8" stroke="#242424" stroke-width="0.8" stroke-linejoin="miter"/>
<circle cx="317.7" cy="235" r="0.75" fill="#5cc3e6"/>
<path d="M223.7 205.8 L221.9 217.2 L223.7 214.4 L225.5 217.2 Z" fill="#c8c8c8" stroke="#242424" stroke-width="0.7"/>
<text x="226.5" y="209" font-family="'Liberation Serif', serif" font-size="14.6" fill="#262626">Im(<tspan font-style="italic">E</tspan>)</text>
<text x="317.8" y="251.6" font-family="'Liberation Serif', serif" font-size="14.6" fill="#262626">Re(<tspan font-style="italic">E</tspan>)</text>
<text x="0.3" y="238.8" font-family="'Liberation Sans', sans-serif" font-size="14.8" fill="#262626">(d)</text>
<path d="M318.1 279.7 L316.15 279.72 L314.2 279.75 L312.26 279.77 L310.32 279.79 L308.39 279.82 L306.47 279.84 L304.56 279.86 L302.65 279.89 L300.74 279.92 L298.85 279.95 L296.96 279.98 L295.08 280.01 L293.2 280.04 L291.33 280.07 L289.47 280.11 L287.61 280.15 L285.76 280.19 L283.92 280.23 L282.08 280.27 L280.25 280.32 L278.43 280.36 L276.61 280.41 L274.8 280.46 L273 280.51 L271.2 280.56 L269.41 280.61 L267.62 280.66 L265.85 280.72 L264.08 280.77 L262.31 280.83 L260.55 280.88 L258.8 280.94 L257.06 281 L255.32 281.05 L253.59 281.11 L251.86 281.17 L250.14 281.23 L248.43 281.29 L246.72 281.36 L245.02 281.42 L243.33 281.49 L241.65 281.56 L239.97 281.63 L238.29 281.7 L236.63 281.77 L234.97 281.85 L233.31 281.93 L231.67 282.01 L230.03 282.1 L228.39 282.18 L226.76 282.27 L225.14 282.37 L223.53 282.46 L221.92 282.56 L220.32 282.67 L218.73 282.77 L217.14 282.88 L215.56 282.99 L213.98 283.1 L212.41 283.21 L210.85 283.32 L209.3 283.43 L207.75 283.54 L206.21 283.66 L204.67 283.77 L203.14 283.88 L201.62 283.99 L200.1 284.09 L198.6 284.2 L197.09 284.3 L195.6 284.4 L194.11 284.5 L192.62 284.6 L191.15 284.7 L189.68 284.81 L188.21 284.91 L186.76 285.01 L185.31 285.12 L183.86 285.23 L182.42 285.34 L180.99 285.46 L179.57 285.58 L178.15 285.7 L176.74 285.83 L175.34 285.97 L173.94 286.11 L172.55 286.26 L171.16 286.41 L169.78 286.58 L168.41 286.75 L167.05 286.93 L165.69 287.11 L164.34 287.3 L162.99 287.5 L161.65 287.71 L160.32 287.92 L158.99 288.12 L157.67 288.32 L156.36 288.5 L155.05 288.65 L153.75 288.78 L152.46 288.86 L151.17 288.91 L149.89 288.92 L148.62 288.9 L147.35 288.85 L146.09 288.79 L144.84 288.72 L143.59 288.64 L142.35 288.57 L141.12 288.5 L139.89 288.44 L138.67 288.39 L137.45 288.35 L136.24 288.32 L135.04 288.3 L133.85 288.28 L132.66 288.28 L131.48 288.3 L130.3 288.32 L129.13 288.36 L127.97 288.41 L126.82 288.47 L125.67 288.55 L124.52 288.64 L123.39 288.73 L122.26 288.84 L121.14 288.95 L120.02 289.07 L118.91 289.2 L117.81 289.33 L116.71 289.47 L115.62 289.62 L114.53 289.76 L113.46 289.91 L112.39 290.06 L111.32 290.21 L110.27 290.35 L109.21 290.47 L108.17 290.59 L107.13 290.68 L106.1 290.75 L105.08 290.8 L104.06 290.82 L103.05 290.81 L102.04 290.78 L101.04 290.73 L100.05 290.68 L99.07 290.61 L98.09 290.54 L97.11 290.48 L96.15 290.41 L95.19 290.35 L94.24 290.29 L93.29 290.25 L92.35 290.2 L91.42 290.17 L90.49 290.14 L89.57 290.12 L88.66 290.1 L87.75 290.09 L86.85 290.08 L85.96 290.08 L85.07 290.08 L84.19 290.1 L83.31 290.11 L82.45 290.14 L81.59 290.17 L80.73 290.2 L79.88 290.24 L79.04 290.28 L78.21 290.33 L77.38 290.38 L76.56 290.44 L75.74 290.49 L74.93 290.56 L74.13 290.62 L73.33 290.69 L72.55 290.76 L71.76 290.83 L70.99 290.9 L70.22 290.98 L69.46 291.06 L68.7 291.13 L67.95 291.21 L67.21 291.29 L66.47 291.36 L65.74 291.44 L65.02 291.51 L64.3 291.57 L63.59 291.63 L62.88 291.68 L62.19 291.72 L61.5 291.76 L60.81 291.78 L60.13 291.8 L59.46 291.8 L58.8 291.8 L58.14 291.79 L57.49 291.77 L56.84 291.75 L56.21 291.73 L55.57 291.7 L54.95 291.68 L54.33 291.65 L53.72 291.63 L53.11 291.61 L52.51 291.6 L51.92 291.59 L51.33 291.58 L50.75 291.59 L50.18 291.6 L49.61 291.61 L49.05 291.64 L48.5 291.67 L47.95 291.71 L47.41 291.75 L46.88 291.8 L46.35 291.85 L45.83 291.91 L45.32 291.97 L44.81 292.04 L44.31 292.1 L43.82 292.17 L43.33 292.24 L42.85 292.31 L42.37 292.38 L41.9 292.46 L41.44 292.53 L40.99 292.6 L40.54 292.67 L40.1 292.74 L39.66 292.82 L39.23 292.89 L38.81 292.95 L38.39 293.02 L37.99 293.09 L37.58 293.16 L37.19 293.23 L36.8 293.29 L36.41 293.36 L36.04 293.43 L35.67 293.49 L35.3 293.56 L34.95 293.62 L34.6 293.69 L34.25 293.75 L33.92 293.82 L33.59 293.88 L33.26 293.95 L32.94 294.01 L32.63 294.08 L32.33 294.14 L32.03 294.2 L31.74 294.27 L31.45 294.33 L31.18 294.39 L30.9 294.46 L30.64 294.52 L30.38 294.58 L30.13 294.64 L29.88 294.71 L29.64 294.77 L29.41 294.83 L29.18 294.89 L28.97 294.96 L28.75 295.02 L28.55 295.08 L28.35 295.14 L28.15 295.2 L27.97 295.27 L27.79 295.33 L27.61 295.39 L27.45 295.45 L27.29 295.52 L27.13 295.58 L26.98 295.64 L26.84 295.7 L26.71 295.76 L26.58 295.82 L26.46 295.89 L26.35 295.95 L26.24 296.01 L26.14 296.07 L26.04 296.13 L25.95 296.2 L25.87 296.26 L25.8 296.32 L25.73 296.38 L25.67 296.44 L25.61 296.51 L25.56 296.57 L25.52 296.63 L25.48 296.69 L25.45 296.75 L25.43 296.81 L25.41 296.88 L25.4 296.94 L25.4 297 L25.4 297.06 L25.41 297.12 L25.43 297.19 L25.45 297.25 L25.48 297.31 L25.52 297.37 L25.56 297.43 L25.61 297.49 L25.67 297.56 L25.73 297.62 L25.8 297.68 L25.87 297.74 L25.95 297.8 L26.04 297.87 L26.14 297.93 L26.24 297.99 L26.35 298.05 L26.46 298.11 L26.58 298.18 L26.71 298.24 L26.84 298.3 L26.98 298.36 L27.13 298.42 L27.29 298.48 L27.45 298.55 L27.61 298.61 L27.79 298.67 L27.97 298.73 L28.15 298.8 L28.35 298.86 L28.55 298.92 L28.75 298.98 L28.97 299.04 L29.18 299.11 L29.41 299.17 L29.64 299.23 L29.88 299.29 L30.13 299.36 L30.38 299.42 L30.64 299.48 L30.9 299.54 L31.18 299.61 L31.45 299.67 L31.74 299.73 L32.03 299.8 L32.33 299.86 L32.63 299.92 L32.94 299.99 L33.26 300.05 L33.59 300.12 L33.92 300.18 L34.25 300.25 L34.6 300.31 L34.95 300.38 L35.3 300.44 L35.67 300.51 L36.04 300.57 L36.41 300.64 L36.8 300.71 L37.19 300.77 L37.58 300.84 L37.99 300.91 L38.39 300.98 L38.81 301.05 L39.23 301.11 L39.66 301.18 L40.1 301.26 L40.54 301.33 L40.99 301.4 L41.44 301.47 L41.9 301.54 L42.37 301.62 L42.85 301.69 L43.33 301.76 L43.82 301.83 L44.31 301.9 L44.81 301.96 L45.32 302.03 L45.83 302.09 L46.35 302.15 L46.88 302.2 L47.41 302.25 L47.95 302.29 L48.5 302.33 L49.05 302.36 L49.61 302.39 L50.18 302.4 L50.75 302.41 L51.33 302.42 L51.92 302.41 L52.51 302.4 L53.11 302.39 L53.72 302.37 L54.33 302.35 L54.95 302.32 L55.57 302.3 L56.21 302.27 L56.84 302.25 L57.49 302.23 L58.14 302.21 L58.8 302.2 L59.46 302.2 L60.13 302.2 L60.81 302.22 L61.5 302.24 L62.19 302.28 L62.88 302.32 L63.59 302.37 L64.3 302.43 L65.02 302.49 L65.74 302.56 L66.47 302.64 L67.21 302.71 L67.95 302.79 L68.7 302.87 L69.46 302.94 L70.22 303.02 L70.99 303.1 L71.76 303.17 L72.55 303.24 L73.33 303.31 L74.13 303.38 L74.93 303.44 L75.74 303.51 L76.56 303.56 L77.38 303.62 L78.21 303.67 L79.04 303.72 L79.88 303.76 L80.73 303.8 L81.59 303.83 L82.45 303.86 L83.31 303.89 L84.19 303.9 L85.07 303.92 L85.96 303.92 L86.85 303.92 L87.75 303.91 L88.66 303.9 L89.57 303.88 L90.49 303.86 L91.42 303.83 L92.35 303.8 L93.29 303.75 L94.24 303.71 L95.19 303.65 L96.15 303.59 L97.11 303.52 L98.09 303.46 L99.07 303.39 L100.05 303.32 L101.04 303.27 L102.04 303.22 L103.05 303.19 L104.06 303.18 L105.08 303.2 L106.1 303.25 L107.13 303.32 L108.17 303.41 L109.21 303.53 L110.27 303.65 L111.32 303.79 L112.39 303.94 L113.46 304.09 L114.53 304.24 L115.62 304.38 L116.71 304.53 L117.81 304.67 L118.91 304.8 L120.02 304.93 L121.14 305.05 L122.26 305.16 L123.39 305.27 L124.52 305.36 L125.67 305.45 L126.82 305.53 L127.97 305.59 L129.13 305.64 L130.3 305.68 L131.48 305.7 L132.66 305.72 L133.85 305.72 L135.04 305.7 L136.24 305.68 L137.45 305.65 L138.67 305.61 L139.89 305.56 L141.12 305.5 L142.35 305.43 L143.59 305.36 L144.84 305.28 L146.09 305.21 L147.35 305.15 L148.62 305.1 L149.89 305.08 L151.17 305.09 L152.46 305.14 L153.75 305.22 L155.05 305.35 L156.36 305.5 L157.67 305.68 L158.99 305.88 L160.32 306.08 L161.65 306.29 L162.99 306.5 L164.34 306.7 L165.69 306.89 L167.05 307.07 L168.41 307.25 L169.78 307.42 L171.16 307.59 L172.55 307.74 L173.94 307.89 L175.34 308.03 L176.74 308.17 L178.15 308.3 L179.57 308.42 L180.99 308.54 L182.42 308.66 L183.86 308.77 L185.31 308.88 L186.76 308.99 L188.21 309.09 L189.68 309.19 L191.15 309.3 L192.62 309.4 L194.11 309.5 L195.6 309.6 L197.09 309.7 L198.6 309.8 L200.1 309.91 L201.62 310.01 L203.14 310.12 L204.67 310.23 L206.21 310.34 L207.75 310.46 L209.3 310.57 L210.85 310.68 L212.41 310.79 L213.98 310.9 L215.56 311.01 L217.14 311.12 L218.73 311.23 L220.32 311.33 L221.92 311.44 L223.53 311.54 L225.14 311.63 L226.76 311.73 L228.39 311.82 L230.03 311.9 L231.67 311.99 L233.31 312.07 L234.97 312.15 L236.63 312.23 L238.29 312.3 L239.97 312.37 L241.65 312.44 L243.33 312.51 L245.02 312.58 L246.72 312.64 L248.43 312.71 L250.14 312.77 L251.86 312.83 L253.59 312.89 L255.32 312.95 L257.06 313 L258.8 313.06 L260.55 313.12 L262.31 313.17 L264.08 313.23 L265.85 313.28 L267.62 313.34 L269.41 313.39 L271.2 313.44 L273 313.49 L274.8 313.54 L276.61 313.59 L278.43 313.64 L280.25 313.68 L282.08 313.73 L283.92 313.77 L285.76 313.81 L287.61 313.85 L289.47 313.89 L291.33 313.93 L293.2 313.96 L295.08 313.99 L296.96 314.02 L298.85 314.05 L300.74 314.08 L302.65 314.11 L304.56 314.14 L306.47 314.16 L308.39 314.18 L310.32 314.21 L312.26 314.23 L314.2 314.25 L316.15 314.28 L318.1 314.3" fill="#fdc83d" stroke="#ec3f22" stroke-width="2.9" stroke-linejoin="round"/>
<path d="M318.1 279.6 L316.14 279.6 L314.18 279.6 L312.23 279.6 L310.29 279.6 L308.36 279.61 L306.43 279.61 L304.5 279.61 L302.59 279.62 L300.68 279.62 L298.78 279.62 L296.88 279.63 L294.99 279.64 L293.11 279.64 L291.23 279.65 L289.36 279.65 L287.5 279.66 L285.64 279.67 L283.79 279.68 L281.95 279.68 L280.11 279.69 L278.28 279.7 L276.46 279.71 L274.64 279.72 L272.83 279.73 L271.02 279.74 L269.23 279.75 L267.43 279.76 L265.65 279.77 L263.87 279.78 L262.1 279.79 L260.34 279.8 L258.58 279.81 L256.83 279.83 L255.08 279.85 L253.34 279.87 L251.61 279.9 L249.89 279.93 L248.17 279.96 L246.46 279.99 L244.75 280.03 L243.05 280.07 L241.36 280.11 L239.67 280.15 L237.99 280.19 L236.32 280.23 L234.65 280.27 L232.99 280.31 L231.34 280.35 L229.69 280.39 L228.05 280.42 L226.42 280.46 L224.79 280.5 L223.17 280.53 L221.56 280.56 L219.95 280.6 L218.35 280.63 L216.76 280.66 L215.17 280.69 L213.59 280.72 L212.02 280.76 L210.45 280.79 L208.89 280.82 L207.33 280.85 L205.79 280.88 L204.25 280.91 L202.71 280.94 L201.18 280.98 L199.66 281.01 L198.15 281.04 L196.64 281.07 L195.14 281.1 L193.64 281.14 L192.15 281.17 L190.67 281.2 L189.19 281.24 L187.73 281.27 L186.26 281.31 L184.81 281.34 L183.36 281.38 L181.92 281.41 L180.48 281.45 L179.05 281.49 L177.63 281.53 L176.21 281.57 L174.8 281.61 L173.4 281.65 L172 281.69 L170.61 281.73 L169.23 281.78 L167.85 281.82 L166.48 281.87 L165.12 281.92 L163.76 281.96 L162.41 282.01 L161.06 282.06 L159.73 282.11 L158.39 282.16 L157.07 282.21 L155.75 282.27 L154.44 282.32 L153.14 282.37 L151.84 282.42 L150.55 282.47 L149.26 282.53 L147.98 282.58 L146.71 282.63 L145.45 282.68 L144.19 282.73 L142.94 282.79 L141.69 282.84 L140.45 282.89 L139.22 282.94 L137.99 283 L136.77 283.05 L135.56 283.1 L134.36 283.16 L133.16 283.21 L131.96 283.27 L130.78 283.32 L129.6 283.38 L128.42 283.43 L127.26 283.49 L126.1 283.54 L124.94 283.6 L123.8 283.66 L122.66 283.71 L121.52 283.77 L120.4 283.82 L119.27 283.88 L118.16 283.94 L117.05 283.99 L115.95 284.05 L114.86 284.11 L113.77 284.16 L112.69 284.22 L111.61 284.28 L110.55 284.33 L109.48 284.39 L108.43 284.44 L107.38 284.5 L106.34 284.55 L105.3 284.61 L104.28 284.67 L103.25 284.72 L102.24 284.78 L101.23 284.84 L100.23 284.9 L99.23 284.96 L98.24 285.02 L97.26 285.08 L96.28 285.15 L95.31 285.21 L94.35 285.28 L93.39 285.34 L92.45 285.41 L91.5 285.49 L90.57 285.56 L89.64 285.64 L88.71 285.72 L87.79 285.8 L86.88 285.88 L85.98 285.96 L85.08 286.04 L84.19 286.12 L83.31 286.2 L82.43 286.28 L81.56 286.36 L80.7 286.44 L79.84 286.51 L78.99 286.59 L78.14 286.66 L77.31 286.74 L76.47 286.81 L75.65 286.88 L74.83 286.96 L74.02 287.03 L73.21 287.1 L72.41 287.17 L71.62 287.25 L70.84 287.32 L70.06 287.39 L69.29 287.46 L68.52 287.53 L67.76 287.6 L67.01 287.68 L66.26 287.75 L65.52 287.82 L64.79 287.89 L64.06 287.97 L63.34 288.04 L62.63 288.11 L61.93 288.19 L61.23 288.26 L60.53 288.34 L59.84 288.42 L59.16 288.49 L58.49 288.57 L57.82 288.65 L57.16 288.73 L56.51 288.81 L55.86 288.89 L55.22 288.98 L54.59 289.06 L53.96 289.14 L53.34 289.22 L52.72 289.3 L52.12 289.38 L51.51 289.47 L50.92 289.55 L50.33 289.63 L49.75 289.71 L49.17 289.8 L48.61 289.88 L48.04 289.97 L47.49 290.05 L46.94 290.13 L46.4 290.22 L45.86 290.3 L45.33 290.38 L44.81 290.47 L44.29 290.55 L43.78 290.64 L43.28 290.72 L42.79 290.8 L42.3 290.89 L41.81 290.97 L41.34 291.05 L40.87 291.14 L40.4 291.22 L39.95 291.3 L39.5 291.39 L39.05 291.47 L38.62 291.55 L38.18 291.64 L37.76 291.72 L37.34 291.8 L36.93 291.88 L36.53 291.97 L36.13 292.05 L35.74 292.13 L35.36 292.21 L34.98 292.29 L34.61 292.37 L34.24 292.45 L33.88 292.53 L33.53 292.61 L33.19 292.69 L32.85 292.77 L32.52 292.85 L32.19 292.93 L31.87 293.01 L31.56 293.09 L31.25 293.17 L30.95 293.25 L30.66 293.33 L30.38 293.41 L30.1 293.49 L29.82 293.57 L29.56 293.65 L29.3 293.73 L29.05 293.82 L28.8 293.9 L28.56 293.98 L28.33 294.06 L28.1 294.14 L27.88 294.23 L27.67 294.31 L27.46 294.39 L27.26 294.47 L27.06 294.56 L26.88 294.64 L26.7 294.72 L26.52 294.81 L26.35 294.89 L26.19 294.98 L26.04 295.06 L25.89 295.14 L25.75 295.23 L25.61 295.31 L25.49 295.4 L25.36 295.48 L25.25 295.56 L25.14 295.65 L25.04 295.73 L24.94 295.82 L24.86 295.9 L24.77 295.99 L24.7 296.07 L24.63 296.15 L24.57 296.24 L24.51 296.32 L24.46 296.41 L24.42 296.49 L24.38 296.58 L24.35 296.66 L24.33 296.75 L24.31 296.83 L24.3 296.92 L24.3 297 L24.3 297.08 L24.31 297.17 L24.33 297.25 L24.35 297.34 L24.38 297.42 L24.42 297.51 L24.46 297.59 L24.51 297.68 L24.57 297.76 L24.63 297.85 L24.7 297.93 L24.77 298.01 L24.86 298.1 L24.94 298.18 L25.04 298.27 L25.14 298.35 L25.25 298.44 L25.36 298.52 L25.49 298.6 L25.61 298.69 L25.75 298.77 L25.89 298.86 L26.04 298.94 L26.19 299.02 L26.35 299.11 L26.52 299.19 L26.7 299.28 L26.88 299.36 L27.06 299.44 L27.26 299.53 L27.46 299.61 L27.67 299.69 L27.88 299.77 L28.1 299.86 L28.33 299.94 L28.56 300.02 L28.8 300.1 L29.05 300.18 L29.3 300.27 L29.56 300.35 L29.82 300.43 L30.1 300.51 L30.38 300.59 L30.66 300.67 L30.95 300.75 L31.25 300.83 L31.56 300.91 L31.87 300.99 L32.19 301.07 L32.52 301.15 L32.85 301.23 L33.19 301.31 L33.53 301.39 L33.88 301.47 L34.24 301.55 L34.61 301.63 L34.98 301.71 L35.36 301.79 L35.74 301.87 L36.13 301.95 L36.53 302.03 L36.93 302.12 L37.34 302.2 L37.76 302.28 L38.18 302.36 L38.62 302.45 L39.05 302.53 L39.5 302.61 L39.95 302.7 L40.4 302.78 L40.87 302.86 L41.34 302.95 L41.81 303.03 L42.3 303.11 L42.79 303.2 L43.28 303.28 L43.78 303.36 L44.29 303.45 L44.81 303.53 L45.33 303.62 L45.86 303.7 L46.4 303.78 L46.94 303.87 L47.49 303.95 L48.04 304.03 L48.61 304.12 L49.17 304.2 L49.75 304.29 L50.33 304.37 L50.92 304.45 L51.51 304.53 L52.12 304.62 L52.72 304.7 L53.34 304.78 L53.96 304.86 L54.59 304.94 L55.22 305.02 L55.86 305.11 L56.51 305.19 L57.16 305.27 L57.82 305.35 L58.49 305.43 L59.16 305.51 L59.84 305.58 L60.53 305.66 L61.23 305.74 L61.93 305.81 L62.63 305.89 L63.34 305.96 L64.06 306.03 L64.79 306.11 L65.52 306.18 L66.26 306.25 L67.01 306.32 L67.76 306.4 L68.52 306.47 L69.29 306.54 L70.06 306.61 L70.84 306.68 L71.62 306.75 L72.41 306.83 L73.21 306.9 L74.02 306.97 L74.83 307.04 L75.65 307.12 L76.47 307.19 L77.31 307.26 L78.14 307.34 L78.99 307.41 L79.84 307.49 L80.7 307.56 L81.56 307.64 L82.43 307.72 L83.31 307.8 L84.19 307.88 L85.08 307.96 L85.98 308.04 L86.88 308.12 L87.79 308.2 L88.71 308.28 L89.64 308.36 L90.57 308.44 L91.5 308.51 L92.45 308.59 L93.39 308.66 L94.35 308.72 L95.31 308.79 L96.28 308.85 L97.26 308.92 L98.24 308.98 L99.23 309.04 L100.23 309.1 L101.23 309.16 L102.24 309.22 L103.25 309.28 L104.28 309.33 L105.3 309.39 L106.34 309.45 L107.38 309.5 L108.43 309.56 L109.48 309.61 L110.55 309.67 L111.61 309.72 L112.69 309.78 L113.77 309.84 L114.86 309.89 L115.95 309.95 L117.05 310.01 L118.16 310.06 L119.27 310.12 L120.4 310.18 L121.52 310.23 L122.66 310.29 L123.8 310.34 L124.94 310.4 L126.1 310.46 L127.26 310.51 L128.42 310.57 L129.6 310.62 L130.78 310.68 L131.96 310.73 L133.16 310.79 L134.36 310.84 L135.56 310.9 L136.77 310.95 L137.99 311 L139.22 311.06 L140.45 311.11 L141.69 311.16 L142.94 311.21 L144.19 311.27 L145.45 311.32 L146.71 311.37 L147.98 311.42 L149.26 311.47 L150.55 311.53 L151.84 311.58 L153.14 311.63 L154.44 311.68 L155.75 311.73 L157.07 311.79 L158.39 311.84 L159.73 311.89 L161.06 311.94 L162.41 311.99 L163.76 312.04 L165.12 312.08 L166.48 312.13 L167.85 312.18 L169.23 312.22 L170.61 312.27 L172 312.31 L173.4 312.35 L174.8 312.39 L176.21 312.43 L177.63 312.47 L179.05 312.51 L180.48 312.55 L181.92 312.59 L183.36 312.62 L184.81 312.66 L186.26 312.69 L187.73 312.73 L189.19 312.76 L190.67 312.8 L192.15 312.83 L193.64 312.86 L195.14 312.9 L196.64 312.93 L198.15 312.96 L199.66 312.99 L201.18 313.02 L202.71 313.06 L204.25 313.09 L205.79 313.12 L207.33 313.15 L208.89 313.18 L210.45 313.21 L212.02 313.24 L213.59 313.28 L215.17 313.31 L216.76 313.34 L218.35 313.37 L219.95 313.4 L221.56 313.44 L223.17 313.47 L224.79 313.5 L226.42 313.54 L228.05 313.58 L229.69 313.61 L231.34 313.65 L232.99 313.69 L234.65 313.73 L236.32 313.77 L237.99 313.81 L239.67 313.85 L241.36 313.89 L243.05 313.93 L244.75 313.97 L246.46 314.01 L248.17 314.04 L249.89 314.07 L251.61 314.1 L253.34 314.13 L255.08 314.15 L256.83 314.17 L258.58 314.19 L260.34 314.2 L262.1 314.21 L263.87 314.22 L265.65 314.23 L267.43 314.24 L269.23 314.25 L271.02 314.26 L272.83 314.27 L274.64 314.28 L276.46 314.29 L278.28 314.3 L280.11 314.31 L281.95 314.32 L283.79 314.32 L285.64 314.33 L287.5 314.34 L289.36 314.35 L291.23 314.35 L293.11 314.36 L294.99 314.36 L296.88 314.37 L298.78 314.38 L300.68 314.38 L302.59 314.38 L304.5 314.39 L306.43 314.39 L308.36 314.39 L310.29 314.4 L312.23 314.4 L314.18 314.4 L316.14 314.4 L318.1 314.4" fill="none" stroke="#188585" stroke-width="1.9" stroke-dasharray="5.2 2.6"/>
<line x1="29" y1="297" x2="318.4" y2="297" stroke="#242424" stroke-width="1.0"/>
<line x1="224.9" y1="273.8" x2="224.9" y2="315.5" stroke="#242424" stroke-width="1.0"/>
<path d="M332.6 297 L320.2 295.4 L324 297 L320.2 298.6 Z" fill="#c8c8c8" stroke="#242424" stroke-width="0.8" stroke-linejoin="miter"/>
<circle cx="318.9" cy="297" r="0.75" fill="#5cc3e6"/>
<path d="M224.9 267.8 L223.1 279.2 L224.9 276.4 L226.7 279.2 Z" fill="#c8c8c8" stroke="#242424" stroke-width="0.7"/>
<text x="228.1" y="271" font-family="'Liberation Serif', serif" font-size="14.6" fill="#262626">Im(<tspan font-style="italic">E</tspan>)</text>
<text x="319" y="312.6" font-family="'Liberation Serif', serif" font-size="14.6" fill="#262626">Re(<tspan font-style="italic">E</tspan>)</text>
<text x="0.1" y="302" font-family="'Liberation Sans', sans-serif" font-size="14.8" fill="#262626">(e)</text>
<line x1="364.8" y1="48.2" x2="364.8" y2="292" stroke="#2c9694" stroke-width="1.8"/>
<path d="M364.1 302 L362.7 289.3 L364.8 290.3 L366.9 289.3 L365.5 302 Z" fill="#1f8c8a"/>
<rect x="356.2" y="140" width="16.5" height="98.6" rx="8.2" ry="8.2" fill="#f7fafc" stroke="#2b9446" stroke-width="1.7"/>
<text transform="translate(368.8 227.3) rotate(-90)" font-family="'Liberation Sans', sans-serif" font-size="14.55" fill="#262626">β increasing</text>
</svg>
</body></html>
